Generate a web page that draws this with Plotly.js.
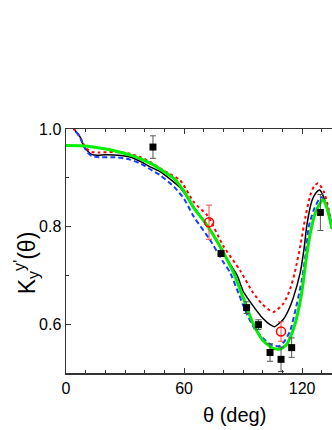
<!DOCTYPE html>
<html>
<head>
<meta charset="utf-8">
<script src="https://cdn.plot.ly/plotly-3.0.1.min.js"></script>
<style>
  html, body { margin: 0; padding: 0; background: #fff; }
  #chart { width: 332px; height: 430px; }
</style>
</head>
<body>
<div id="chart"></div>
<script>
// Black solid curve
const blackTheta = [0, 4, 7, 9, 11, 13, 16, 20, 27, 33, 38, 43, 48, 53, 58, 65, 73, 80, 87, 90, 95, 100, 103.7, 106, 110.5, 113, 115.6, 119, 121, 122.5, 125, 127, 128.9, 130.8, 132.7, 135.2];
const blackK = [1.02, 1.0, 0.985, 0.966, 0.955, 0.948, 0.946, 0.947, 0.946, 0.942, 0.933, 0.922, 0.912, 0.897, 0.88, 0.84, 0.795, 0.745, 0.7, 0.668, 0.638, 0.612, 0.599, 0.595, 0.61, 0.628, 0.655, 0.705, 0.755, 0.805, 0.853, 0.869, 0.875, 0.862, 0.836, 0.795];

// Red dotted curve
const redTheta = [0, 4, 7, 9, 11, 13, 17, 25, 32, 38, 43, 50, 58, 65, 72, 80, 88.5, 95, 100, 105.4, 110.5, 113.9, 116.4, 119.3, 121.7, 124.2, 126, 128.1, 131, 133, 135.2];
const redK = [1.02, 1.0, 0.985, 0.968, 0.958, 0.953, 0.952, 0.953, 0.95, 0.942, 0.932, 0.914, 0.895, 0.85, 0.822, 0.76, 0.71, 0.665, 0.64, 0.625, 0.642, 0.672, 0.708, 0.765, 0.82, 0.865, 0.882, 0.889, 0.872, 0.845, 0.8];

// Blue dashed curve
const blueTheta = [0, 4, 7, 9, 11, 13, 17, 25, 32, 38, 43, 48, 55, 60, 65, 73, 80, 83.4, 88, 92, 96, 100, 104, 108.4, 111, 113.9, 117.3, 119.8, 121.7, 123.4, 126, 128.5, 130, 132.5, 135.2];
const blueK = [1.02, 1.0, 0.984, 0.964, 0.952, 0.945, 0.942, 0.942, 0.938, 0.929, 0.917, 0.905, 0.881, 0.857, 0.82, 0.774, 0.727, 0.706, 0.66, 0.62, 0.59, 0.572, 0.558, 0.555, 0.565, 0.586, 0.641, 0.689, 0.74, 0.8, 0.835, 0.855, 0.86, 0.843, 0.8];

// Green solid curve
const greenTheta = [0, 10, 17, 25, 34, 40, 45, 50, 55, 60, 65, 70, 75, 80, 85, 90, 95, 100, 105, 108.8, 112, 113.9, 115.6, 117.3, 119.8, 121, 122.3, 124.2, 126.8, 130.5, 132.5, 135.2];
const greenK = [0.966, 0.965, 0.961, 0.955, 0.945, 0.935, 0.925, 0.912, 0.898, 0.872, 0.838, 0.812, 0.782, 0.747, 0.707, 0.655, 0.602, 0.567, 0.551, 0.549, 0.558, 0.572, 0.59, 0.614, 0.664, 0.7, 0.74, 0.787, 0.829, 0.855, 0.84, 0.795];

// Measured points (black squares)
const expTheta = [44.2, 78.8, 91.8, 97.8, 103.7, 109.3, 114.7, 129.3];
const expK = [0.963, 0.745, 0.634, 0.599, 0.542, 0.528, 0.552, 0.829];
const expErr = [0.023, 0.006, 0.012, 0.01, 0.018, 0.025, 0.02, 0.037];

// Measured points (red open circles)
const circTheta = [72.7, 109.3];
const circK = [0.809, 0.585];
const circErr = [0.035, 0.02];

const xTicks = [0, 60, 120];
const yTicks = [0.6, 0.8, 1.0];

var data = [
    {
        x: blackTheta, y: blackK, type: 'scatter', mode: 'lines',
        line: { color: '#000000', width: 1.5, shape: 'spline', smoothing: 0.6 }
    },
    {
        x: redTheta, y: redK, type: 'scatter', mode: 'lines',
        line: { color: '#ff0000', width: 2, dash: 'dot', shape: 'spline', smoothing: 0.6 }
    },
    {
        x: blueTheta, y: blueK, type: 'scatter', mode: 'lines',
        line: { color: '#1a3cff', width: 2, dash: '5px,3px', shape: 'spline', smoothing: 0.6 }
    },
    {
        x: greenTheta, y: greenK, type: 'scatter', mode: 'lines',
        line: { color: '#00ee00', width: 3, shape: 'spline', smoothing: 0.6 }
    },
    {
        x: expTheta, y: expK, type: 'scatter', mode: 'markers',
        marker: { symbol: 'square', size: 7, color: '#000000' },
        error_y: { type: 'data', array: expErr, visible: true, color: '#555555', thickness: 1, width: 3 }
    },
    {
        x: circTheta, y: circK, type: 'scatter', mode: 'markers',
        marker: { symbol: 'circle-open', size: 9, color: '#ff0000', line: { width: 1.5 } },
        error_y: { type: 'data', array: circErr, visible: true, color: '#ff4444', thickness: 1, width: 3 }
    }
];

var layout = {
    width: 332,
    height: 430,
    margin: { l: 66, r: 0, t: 129, b: 57 },
    paper_bgcolor: '#ffffff',
    plot_bgcolor: '#ffffff',
    showlegend: false,
    font: { family: 'Liberation Sans, Arial, sans-serif', color: '#000' },
    xaxis: {
        range: [0, 135.2],
        tickvals: xTicks,
        ticktext: xTicks.map(String),
        ticks: 'inside',
        ticklen: 5,
        tickcolor: '#333',
        showline: true,
        linecolor: '#333',
        linewidth: 1.5,
        mirror: 'ticks',
        showgrid: false,
        zeroline: false,
        tickfont: { size: 16 },
        minor: { dtick: 10, tick0: 0, ticks: 'inside', ticklen: 3, tickcolor: '#333', showgrid: false }
    },
    yaxis: {
        range: [0.5, 1.0],
        tickvals: yTicks,
        ticktext: yTicks.map(v => v.toFixed(1)),
        ticks: 'inside',
        ticklen: 5,
        tickcolor: '#333',
        showline: true,
        linecolor: '#333',
        linewidth: 1.5,
        showgrid: false,
        zeroline: false,
        tickfont: { size: 16 },
        minor: { dtick: 0.1, tick0: 0.5, ticks: 'inside', ticklen: 3, tickcolor: '#333', showgrid: false }
    },
    annotations: [
        {
            text: 'θ (deg)', xref: 'paper', yref: 'paper',
            x: 0.632, y: -0.172, xanchor: 'center', yanchor: 'middle',
            showarrow: false, font: { size: 20 }
        },
        {
            text: "K<sub>y</sub><sup>y'</sup>(θ)", xref: 'paper', yref: 'paper',
            x: -0.15, y: 0.45, xanchor: 'center', yanchor: 'middle',
            textangle: -90, showarrow: false, font: { size: 23 }
        }
    ]
};

Plotly.newPlot('chart', data, layout, { staticPlot: true, displayModeBar: false });
</script>
</body>
</html>
